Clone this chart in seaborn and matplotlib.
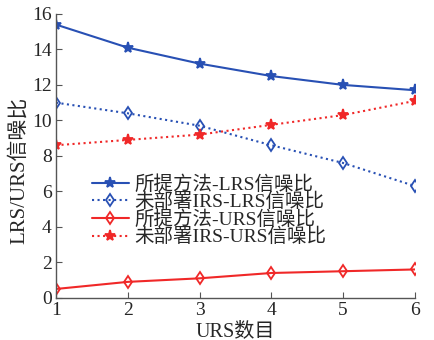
import numpy as np
import pandas as pd
import matplotlib
matplotlib.use("Agg")
import matplotlib.pyplot as plt
import seaborn as sns

urs_count = [1, 2, 3, 4, 5, 6]
proposed_lrs = [15.4, 14.1, 13.2, 12.5, 12.0, 11.7]
no_irs_lrs = [11.0, 10.4, 9.7, 8.6, 7.6, 6.3]
proposed_urs = [0.5, 0.9, 1.1, 1.4, 1.5, 1.6]
no_irs_urs = [8.6, 8.9, 9.2, 9.75, 10.3, 11.1]

series_names = ["所提方法-LRS信噪比", "未部署IRS-LRS信噪比",
                "所提方法-URS信噪比", "未部署IRS-URS信噪比"]
y_ticks = [0, 2, 4, 6, 8, 10, 12, 14, 16]

sns.set_style("ticks")
plt.rcParams["font.family"] = ["Liberation Serif", "Noto Sans CJK SC"]
plt.rcParams["xtick.direction"] = "in"
plt.rcParams["ytick.direction"] = "in"

blue = "#2850b4"
red = "#f02828"

fig = plt.figure(figsize=(4.34, 3.40), dpi=100)
ax = fig.add_axes([0.129, 0.124, 0.827, 0.835])

styles = [
    (proposed_lrs, blue, "-", "*", 8, blue),
    (no_irs_lrs, blue, ":", "d", 6, "none"),
    (proposed_urs, red, "-", "d", 6, "none"),
    (no_irs_urs, red, ":", "*", 8, red),
]
for name, (vals, col, ls, mk, ms, mfc) in zip(series_names, styles):
    df = pd.DataFrame({"x": urs_count, "y": vals})
    sns.lineplot(data=df, x="x", y="y", ax=ax, color=col, linestyle=ls,
                 linewidth=1.5, marker=mk, markersize=ms,
                 markerfacecolor=mfc, markeredgecolor=col,
                 markeredgewidth=1.3, label=name)

ax.set_xlim(1, 6)
ax.set_ylim(0, 16)
ax.set_xticks(urs_count)
ax.set_yticks(y_ticks)
ax.tick_params(labelsize=14, length=4, color="#555555", pad=3)
ax.set_xlabel("URS数目", fontsize=14.5, labelpad=2)
ax.set_ylabel("LRS/URS信噪比", fontsize=15)
ax.yaxis.set_label_coords(-0.075, 0.45)
sns.despine(ax=ax)
for s in ("left", "bottom"):
    ax.spines[s].set_color("#555555")
    ax.spines[s].set_linewidth(1.0)

ax.legend(loc="upper left", bbox_to_anchor=(0.078, 0.46), frameon=False,
          fontsize=14, handlelength=1.9, handletextpad=0.3,
          labelspacing=-0.05, borderaxespad=0)

fig.savefig("out.png", dpi=100)
